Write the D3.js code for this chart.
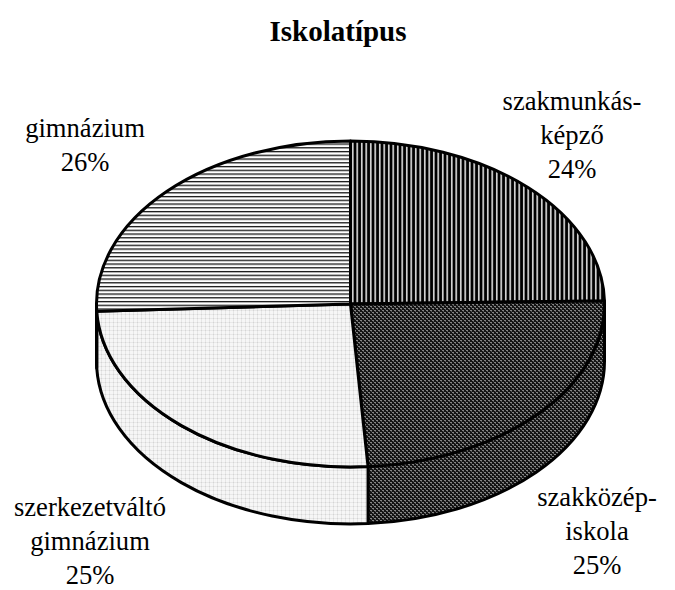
<!DOCTYPE html>
<html><head><meta charset="utf-8">
<script src="https://cdn.jsdelivr.net/npm/d3@7/dist/d3.min.js"></script>
<style>html,body{margin:0;padding:0;background:#fff}svg{display:block}text{font-family:"Liberation Serif",serif;fill:#000}</style>
</head><body><div id="c"></div>
<script>
const chartTitle = "Iskolatípus";
const categories = ["szakmunkásképző","szakközépiskola","szerkezetváltó gimnázium","gimnázium"];
const sliceShares = [24.7,24.2,25.4,25.7];
const labelLines = [["szakmunkás-","képző","24%"],["szakközép-","iskola","25%"],["szerkezetváltó","gimnázium","25%"],["gimnázium","26%"]];

const W=675,H=590,cx=350.5,cy=304,rx=254,ry=163,depth=57;
const labelPos=[[572,110],[597,506],[90,516],[85,137]];
const svg=d3.select("#c").append("svg").attr("width",W).attr("height",H);
const defs=svg.append("defs");
function pat(id,w,h,draw){const p=defs.append("pattern").attr("id",id).attr("patternUnits","userSpaceOnUse").attr("width",w).attr("height",h);draw(p);}
const r=(p,x,y,w,h,f)=>p.append("rect").attr("x",x).attr("y",y).attr("width",w).attr("height",h).attr("fill",f);
pat("pV",4.5,4,p=>{r(p,0,0,4.5,4,"#000");r(p,1,0,1.5,4,"#f0f0f0");});
pat("pD",4,4,p=>{r(p,0,0,4,4,"#141414");r(p,0,0,2,1,"#858585");r(p,2,2,2,1,"#858585");r(p,1,1,1,1,"#555");r(p,3,3,1,1,"#555");});
pat("pL",4,4,p=>{r(p,0,0,4,4,"#f6f6f6");r(p,1,0,1,4,"#e6e6e6");r(p,0,2,4,1,"#e8e8e8");r(p,1,2,1,1,"#d4d4d4");});
pat("pH",4,3.75,p=>{r(p,0,0,4,3.75,"#fff");r(p,0,1,4,1.2,"#000");});
const fills=["url(#pV)","url(#pD)","url(#pL)","url(#pH)"];

const pie=d3.pie().sort(null).value(d=>d)(sliceShares);
const ex=a=>cx+rx*Math.sin(a), ey=a=>cy-ry*Math.cos(a);
const arcTo=(a1,a0,dy=0,sweep=1)=>`A${rx},${ry} 0 ${Math.abs(a1-a0)>Math.PI?1:0} ${sweep} ${ex(a1)},${ey(a1)+dy}`;
const H90=Math.PI/2,H270=3*Math.PI/2;

const g=svg.append("g");
pie.forEach((d,i)=>{
  const a0=Math.max(d.startAngle,H90),a1=Math.min(d.endAngle,H270);
  if(a1<=a0)return;
  const path=`M${ex(a0)},${ey(a0)}${arcTo(a1,a0)}L${ex(a1)},${ey(a1)+depth}${arcTo(a0,a1,depth,0)}Z`;
  g.append("path").attr("d",path).attr("fill",fills[i]).attr("stroke","#000").attr("stroke-width",3).attr("stroke-linejoin","round");
});
pie.forEach((d,i)=>{
  const path=`M${cx},${cy}L${ex(d.startAngle)},${ey(d.startAngle)}${arcTo(d.endAngle,d.startAngle)}Z`;
  g.append("path").attr("d",path).attr("fill",fills[i]).attr("stroke","#000").attr("stroke-width",3).attr("stroke-linejoin","round");
});
svg.append("text").attr("x",338).attr("y",41).attr("text-anchor","middle").attr("font-size",29).attr("font-weight","bold").text(chartTitle);
labelLines.forEach((lines,i)=>{
  const t=svg.append("text").attr("text-anchor","middle").attr("font-size",26.6);
  lines.forEach((s,j)=>t.append("tspan").attr("x",labelPos[i][0]).attr("y",labelPos[i][1]+j*34).text(s));
});
</script></body></html>
